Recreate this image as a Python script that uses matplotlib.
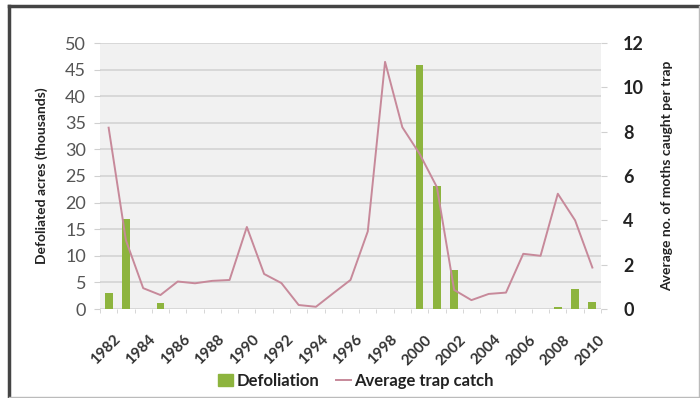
import matplotlib
matplotlib.use("Agg")
import matplotlib.pyplot as plt
from matplotlib.patches import Rectangle
from matplotlib.lines import Line2D
import numpy as np

plt.rcParams['font.family'] = ['Lato', 'DejaVu Sans']

# gypsy moth defoliation vs. pheromone trap catch
years = list(range(1982, 2011))
defoliation = [3.1, 17.0, 0, 1.1, 0, 0, 0, 0, 0, 0, 0, 0, 0, 0, 0, 0, 0, 0,
               45.8, 23.2, 7.3, 0, 0, 0, 0, 0, 0.3, 3.7, 1.3]
trap_catch = [8.18, 3.1, 0.94, 0.63, 1.24, 1.16, 1.27, 1.31, 3.7, 1.58, 1.17,
              0.18, 0.1, 0.71, 1.31, 3.5, 11.15, 8.2, 7.0, 5.5, 0.86, 0.4,
              0.68, 0.74, 2.49, 2.4, 5.2, 4.0, 1.87]
tick_years = [str(y) for y in years[::2]]

bar_color = '#8db43e'
line_color = '#c7899a'

fig = plt.figure(figsize=(7.0, 3.98), dpi=100)
ax = fig.add_axes([100 / 700, 1 - 309 / 398, 501 / 700, 266 / 398])
ax2 = ax.twinx()

x = np.arange(len(years))
ax.set_facecolor('#f1f1f1')
ax.bar(x, defoliation, width=0.45, color=bar_color, zorder=3)
ax2.plot(x, trap_catch, color=line_color, lw=1.4, zorder=4)

ax.set_xlim(-0.5, len(years) - 0.5)
ax.set_ylim(0, 50)
ax.set_yticks(range(0, 51, 5))
ax2.set_ylim(0, 12)
ax2.set_yticks(range(0, 13, 2))

ax.yaxis.grid(True, color='#d4d4d4', lw=1.2, zorder=0)
ax.set_axisbelow(True)

ax.set_xticks(x[::2] + 0.3)
ax.set_xticklabels(tick_years, rotation=45, ha='right', rotation_mode='anchor',
                   fontsize=11, fontweight='bold', color='#333333')
ax.set_xticks(np.arange(-0.5, len(years), 1), minor=True)
ax.tick_params(axis='x', which='major', length=0, pad=17)
ax.tick_params(axis='x', which='minor', length=3, color='#d0d0d0')
ax.tick_params(axis='y', length=4, color='#d0d0d0', labelsize=13,
               labelcolor='#555555', pad=6)
ax2.tick_params(axis='y', length=4, color='#d0d0d0', labelsize=13,
                labelcolor='#222222', pad=12)
for lab in ax2.get_yticklabels():
    lab.set_fontweight('bold')

for a in (ax, ax2):
    for s in a.spines.values():
        s.set_visible(False)

ax.set_ylabel('Defoliated acres (thousands)', fontsize=10, fontweight='bold',
              color='#222222', labelpad=12)
ax2.set_ylabel('Average no. of moths caught per trap', fontsize=10,
               fontweight='bold', color='#222222', labelpad=12)

handles = [Rectangle((0, 0), 1, 1, color=bar_color),
           Line2D([], [], color=line_color, lw=1.4)]
fig.legend(handles, ['Defoliation', 'Average trap catch'], loc='center',
           bbox_to_anchor=(0.508, 1 - 381 / 398), ncol=2, frameon=False,
           prop={'size': 12, 'weight': 'bold'}, handlelength=0.9,
           handletextpad=0.2, columnspacing=1.0, labelcolor='#222222')

# frame around the whole chart: dark top/left, light bottom/right
fig.add_artist(Line2D([9 / 700, 699 / 700], [1 - 6 / 398] * 2,
                      transform=fig.transFigure, color='#444444', lw=2.5))
fig.add_artist(Line2D([9 / 700] * 2, [1 - 6 / 398, 1 - 397 / 398],
                      transform=fig.transFigure, color='#444444', lw=2.5))
fig.add_artist(Line2D([9 / 700, 699 / 700], [1 - 396.5 / 398] * 2,
                      transform=fig.transFigure, color='#bbbbbb', lw=1))
fig.add_artist(Line2D([698.5 / 700] * 2, [1 - 6 / 398, 1 - 397 / 398],
                      transform=fig.transFigure, color='#bbbbbb', lw=1))

fig.savefig('out.png', dpi=100)
